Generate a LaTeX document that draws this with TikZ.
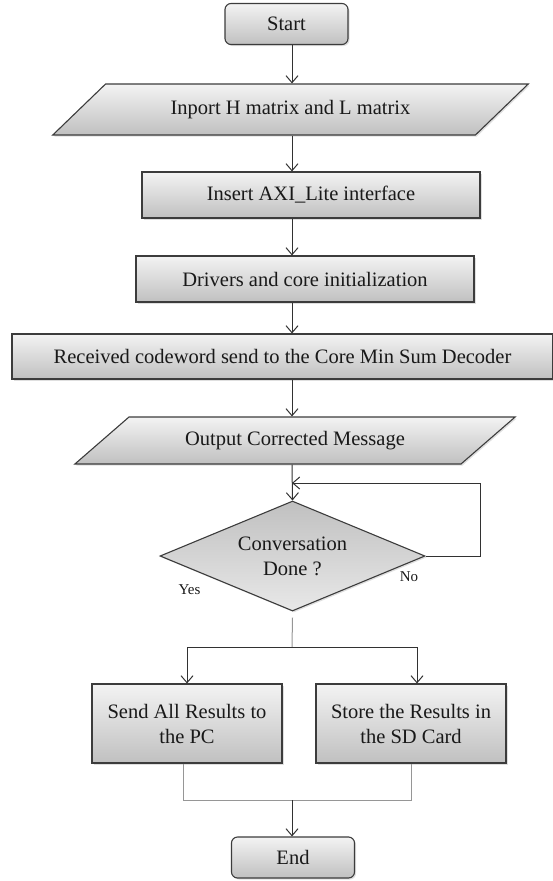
\documentclass[tikz,border=0pt]{standalone}
\usepackage{fontspec}
\setmainfont{Liberation Serif}
\usepackage{xcolor}
\usepackage{tikz}
\usetikzlibrary{shapes.geometric, shapes.misc, arrows.meta, positioning, calc, shadows}
\definecolor{edgecolor}{RGB}{60, 60, 60}
\definecolor{linkcolor}{RGB}{50, 50, 50}
\definecolor{stemcolor}{RGB}{150, 150, 150}
\definecolor{boxtop}{RGB}{243, 243, 243}
\definecolor{boxbottom}{RGB}{192, 192, 192}
\definecolor{decisiontop}{RGB}{192, 192, 192}
\definecolor{decisionbottom}{RGB}{232, 232, 232}

\begin{document}
\begin{tikzpicture}[
        x=1pt, y=-1pt,
        shaded/.style={draw=edgecolor, line width=1.1pt, top color=boxtop, bottom color=boxbottom, drop shadow={opacity=0.25, shadow xshift=1.5pt, shadow yshift=-1.5pt}, text=black!90, font=\fontsize{20.5}{25}\selectfont, inner sep=0pt, align=center},
        terminal/.style={shaded, rectangle, rounded corners=6pt, minimum width=123pt, minimum height=41pt},
        process/.style={shaded, rectangle, minimum height=46pt},
        iobox/.style={shaded, trapezium, trapezium stretches=true},
        decision/.style={shaded, diamond, aspect=2.4, top color=decisiontop, bottom color=decisionbottom, minimum width=265pt, minimum height=110pt},
        answer/.style={text=black!90, font=\fontsize{15}{18}\selectfont, inner sep=0pt},
        arrow/.style={line width=1pt, linkcolor, -{Straight Barb[length=7pt, width=12pt]}},
        stemline/.style={line width=1pt, stemcolor}
    ]
        \useasboundingbox (0,0) rectangle (552,881);
        \coordinate (spine) at (292,0);

        % Flow steps
        \node (start) [terminal] at (286.5,24) {Start};
        \node (inport) [iobox, trapezium left angle=28.5, trapezium right angle=151.5, minimum width=477pt, minimum height=51pt] at (290.5,109.5) {Inport H matrix and L matrix};
        \node (axi) [process, minimum width=338pt] at (311,195) {Insert AXI\_Lite interface};
        \node (drivers) [process, minimum width=338pt] at (305,279) {Drivers and core initialization};
        \node (received) [process, minimum width=541pt, minimum height=45pt] at (282.5,356.5) {Received codeword send to the Core Min Sum Decoder};
        \node (output) [iobox, trapezium left angle=27.5, trapezium right angle=152.5, minimum width=442pt, minimum height=47pt] at (295,440.5) {Output Corrected Message};
        \node (check) [decision] at (292.5,556) {Conversation\\Done ?};
        \node (pc) [process, minimum width=190pt, minimum height=79pt] at (187,723.5) {Send All Results to\\the PC};
        \node (sd) [process, minimum width=190pt, minimum height=79pt] at (411,723.5) {Store the Results in\\the SD Card};
        \node (end) [terminal] at (293,857.5) {End};

        % Answers
        \node (nolabel) [answer] at (409,577) {No};
        \node (yeslabel) [answer] at (189.5,590) {Yes};

        % Arrows
        \draw [arrow] (spine |- start.south) -- (spine |- inport.north);
        \draw [arrow] (spine |- inport.south) -- (spine |- axi.north);
        \draw [arrow] (spine |- axi.south) -- (spine |- drivers.north);
        \draw [arrow] (spine |- drivers.south) -- (spine |- received.north);
        \draw [arrow] (spine |- received.south) -- (spine |- output.north);
        \draw [arrow] (spine |- output.south) -- (check.north);

        % Loop back
        \coordinate (loopcorner) at (480,483);
        \draw [arrow] (check.east) -| (loopcorner) -- (spine |- loopcorner);

        % Split to the two outputs
        \coordinate (split) at (292,647);
        \draw [stemline] ([yshift=-6pt]check.south) -- (split);
        \draw [arrow] (split) -| (pc.north);
        \draw [arrow] (split) -| ([xshift=6pt]sd.north);

        % Join to the end
        \coordinate (join) at (292,800);
        \draw [stemline] ([xshift=-4pt]pc.south) |- (join) -| (sd.south);
        \draw [arrow] (join) -- (join |- end.north);
    \end{tikzpicture}
\end{document}
